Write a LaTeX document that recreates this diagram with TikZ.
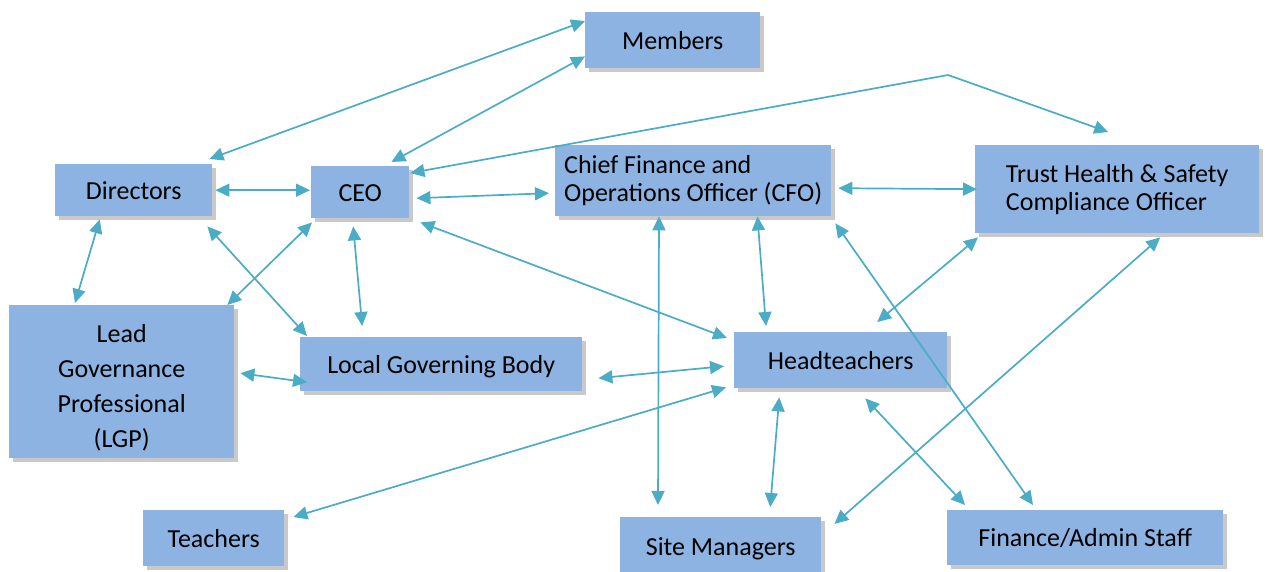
\documentclass[tikz,border=0pt]{standalone}
\usepackage{fontspec}
\setmainfont{Carlito}
\usetikzlibrary{arrows.meta,shadows,calc}
\definecolor{boxblue}{HTML}{8DB3E2}
\definecolor{arrowc}{HTML}{4BACC6}
\tikzset{
  box/.style={fill=boxblue, draw=none, anchor=north west, inner sep=0pt,
    font=\fontsize{26}{28}\selectfont,
    drop shadow={shadow xshift=3.5pt, shadow yshift=-3.5pt, opacity=0.3, fill=black!70}},
  onebox/.style={box, text height=24pt, text depth=6pt},
  link/.style={draw=arrowc, line width=1.7pt, {Triangle[length=14pt,width=13pt]}-{Triangle[length=14pt,width=13pt]}}
}
\begin{document}
\begin{tikzpicture}[x=1pt,y=-1pt]
\useasboundingbox (0,0) rectangle (1265,572);
% boxes
\node[onebox, minimum width=175pt, minimum height=56pt] (mem) at (585,12) {Members};
\node[onebox, minimum width=157pt, minimum height=52pt] (dir) at (55,164) {Directors};
\node[onebox, minimum width=98pt, minimum height=52pt] (ceo) at (311,166) {CEO};
\node[box, minimum width=225pt, minimum height=153pt,
  font=\fontsize{26}{35}\selectfont] (lgp) at (9,305) {\raisebox{-13pt}[0pt][0pt]{\begin{tabular}{@{}c@{}}Lead\\Governance\\Professional\\(LGP)\end{tabular}}};
\node[onebox, minimum width=282pt, minimum height=54pt] (lgb) at (300,337) {Local Governing Body};
\node[box, minimum width=276pt, minimum height=71pt, align=left] (cfo) at (555,145) {Chief Finance and\\Operations Officer (CFO)};
\node[box, minimum width=284pt, minimum height=88pt, align=left] (ths) at (975,145) {Trust Health \& Safety\\Compliance Officer};
\node[onebox, minimum width=213pt, minimum height=56pt] (head) at (734,332) {Headteachers};
\node[onebox, minimum width=201pt, minimum height=58pt] (site) at (620,517) {Site Managers};
\node[onebox, minimum width=276pt, minimum height=55pt] (fin) at (947,510) {Finance/Admin Staff};
\node[onebox, minimum width=141pt, minimum height=56pt] (teach) at (143,510) {Teachers};
\coordinate (bend) at (948,75);
% connectors
\draw[link] ([shift={(0,9)}]mem.north west) -- ([shift={(-3,-5)}]dir.north east);
\draw[link] ([shift={(0,-12)}]mem.south west) -- ([shift={(-18,-4)}]ceo.north east);
\draw[link] ([shift={(3,0)}]dir.east) -- ([shift={(-1,-2)}]ceo.west);
\draw[link] ([shift={(7,6)}]ceo.east) -- ([shift={(-6,12.5)}]cfo.west);
\draw[link] ([shift={(1,7)}]ceo.north east) -- (bend) -- ([shift={(-9,-13)}]ths.north);
\draw[link] ([shift={(7,7.5)}]cfo.east) -- ([shift={(2,0)}]ths.west);
\draw[link] ([shift={(11,4)}]ceo.south east) -- ([shift={(-7,6)}]head.north west);
\draw[link] ([shift={(-34,3)}]dir.south) -- ([shift={(66,-2)}]lgp.north west);
\draw[link] ([shift={(-5,10)}]dir.south east) -- ([shift={(7,-1)}]lgb.north west);
\draw[link] ([shift={(1,4)}]ceo.south west) -- ([shift={(-7,0)}]lgp.north east);
\draw[link] ([shift={(-7,8)}]ceo.south) -- ([shift={(-79,-11)}]lgb.north);
\draw[link] ([shift={(6,-8.5)}]lgp.east) -- ([shift={(7,18)}]lgb.west);
\draw[link] ([shift={(16,14)}]lgb.east) -- ([shift={(-10,6)}]head.west);
\draw[link] ([shift={(9,7)}]teach.north east) -- ([shift={(-8,-1)}]head.south west);
\draw[link] ([shift={(104,0)}]cfo.south west) -- ([shift={(38,-12)}]site.north west);
\draw[link] ([shift={(-74,0)}]cfo.south east) -- ([shift={(32,-6)}]head.north west);
\draw[link] ([shift={(-61.5,9)}]head.south) -- ([shift={(49.5,-10)}]site.north);
\draw[link] ([shift={(36.5,-10)}]head.north) -- ([shift={(3,4)}]ths.south west);
\draw[link] ([shift={(43,4)}]ths.south) -- ([shift={(13,7)}]site.north east);
\draw[link] ([shift={(4,7)}]cfo.south east) -- ([shift={(86,-5)}]fin.north west);
\draw[link] ([shift={(-82,10)}]head.south east) -- ([shift={(18,-5)}]fin.north west);
\end{tikzpicture}
\end{document}
